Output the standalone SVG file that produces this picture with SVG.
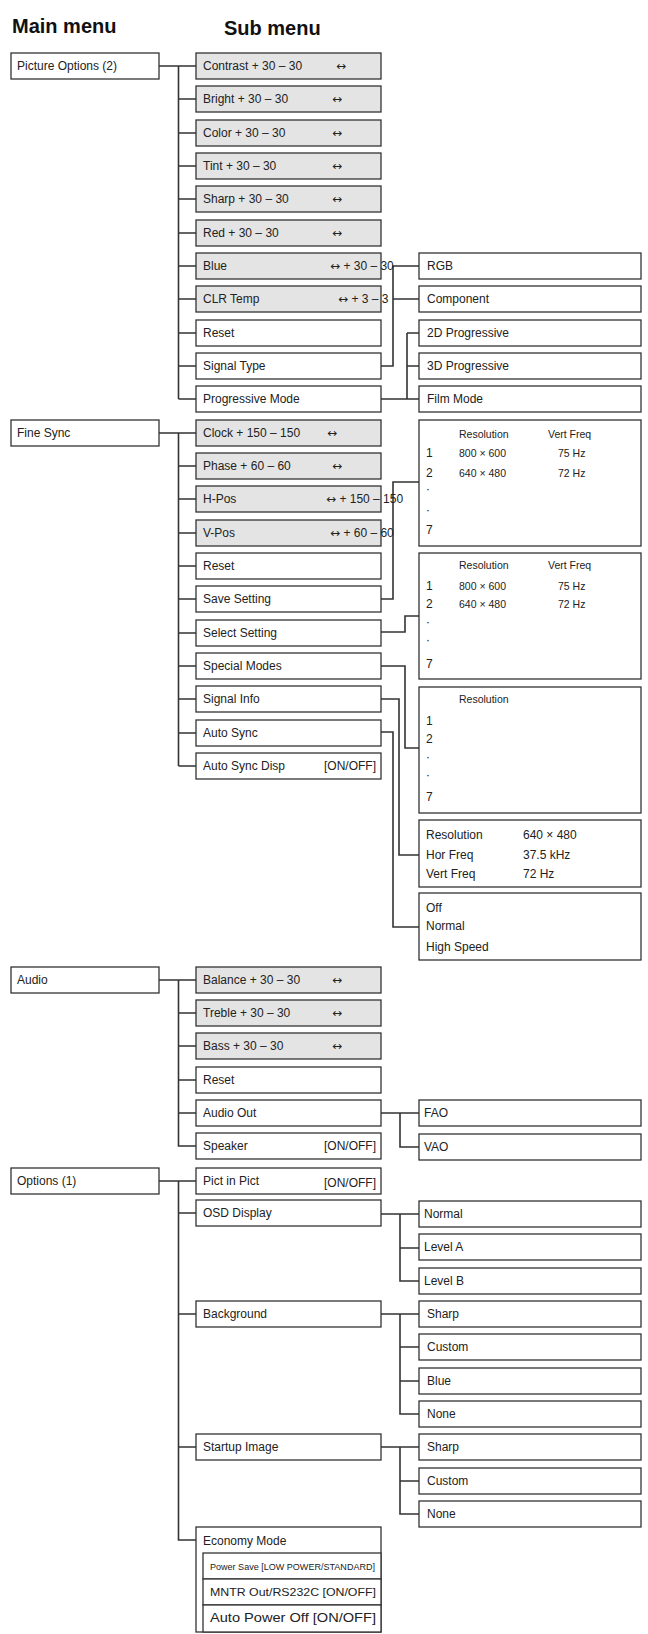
<svg xmlns="http://www.w3.org/2000/svg" width="648" height="1634" viewBox="0 0 648 1634">
<style>
rect{stroke:#333;stroke-width:1.3;fill:#fff}
rect.g{fill:#e4e4e4}
rect.bg{stroke:none}
text{font-family:"Liberation Sans",Arial,sans-serif;font-size:12px;fill:#222}
text.s{font-size:10.5px}
text.h{font-size:20px;font-weight:bold;fill:#111}
text.r{text-anchor:end}
tspan.a{font-family:"DejaVu Sans",sans-serif;font-size:12px}
.c path{fill:none;stroke:#333;stroke-width:1.6}
</style>
<rect class="bg" width="648" height="1634"/>
<text class="h" x="12" y="33">Main menu</text>
<text class="h" x="224" y="35">Sub menu</text>

<g class="c">
<path d="M159 66H196M178.5 66V399M178.5 99H196M178.5 133H196M178.5 166H196M178.5 199H196M178.5 233H196M178.5 266H196M178.5 299H196M178.5 333H196M178.5 366H196M178.5 399H196"/>
<path d="M381 366H393V266H419M393 299H419"/>
<path d="M381 399H407M407 333V399M407 333H419M407 366H419M407 399H419"/>
<path d="M159 433H196M178.5 433V766M178.5 466H196M178.5 499H196M178.5 533H196M178.5 566H196M178.5 599H196M178.5 633H196M178.5 666H196M178.5 699H196M178.5 733H196M178.5 766H196"/>
<path d="M381 599H393V482H419"/>
<path d="M381 632H405V616H419"/>
<path d="M381 666H405V748H419"/>
<path d="M381 699H399V855H419"/>
<path d="M381 732H393V927H419"/>
<path d="M159 980H196M178.5 980V1146H196M178.5 1013H196M178.5 1046H196M178.5 1080H196M178.5 1113H196"/>
<path d="M381 1113H419M400 1113V1147H419"/>
<path d="M159 1181H196M178.5 1181V1540H196M178.5 1213H196M178.5 1314H196M178.5 1447H196"/>
<path d="M381 1214H419M400 1214V1281H419M400 1248H419"/>
<path d="M381 1314H419M400 1314V1414H419M400 1347H419M400 1381H419"/>
<path d="M381 1447H419M400 1447V1514H419M400 1481H419"/>
</g>

<g id="m-picture"><rect x="11" y="53" width="148" height="26"/><text x="17" y="70">Picture Options (2)</text></g>
<g id="m-finesync"><rect x="11" y="420" width="148" height="26"/><text x="17" y="437">Fine Sync</text></g>
<g id="m-audio"><rect x="11" y="967" width="148" height="26"/><text x="17" y="984">Audio</text></g>
<g id="m-options"><rect x="11" y="1168" width="148" height="26"/><text x="17" y="1185">Options (1)</text></g>

<g id="s-contrast"><rect class="g" x="196" y="53" width="185" height="26"/><text x="203" y="70">Contrast  + 30 – 30</text><text x="336" y="70"><tspan class="a">↔</tspan></text></g>
<g id="s-bright"><rect class="g" x="196" y="86" width="185" height="26"/><text x="203" y="103">Bright  + 30 – 30</text><text x="332" y="103"><tspan class="a">↔</tspan></text></g>
<g id="s-color"><rect class="g" x="196" y="120" width="185" height="26"/><text x="203" y="137">Color  + 30 – 30</text><text x="332" y="137"><tspan class="a">↔</tspan></text></g>
<g id="s-tint"><rect class="g" x="196" y="153" width="185" height="26"/><text x="203" y="170">Tint  + 30 – 30</text><text x="332" y="170"><tspan class="a">↔</tspan></text></g>
<g id="s-sharp"><rect class="g" x="196" y="186" width="185" height="26"/><text x="203" y="203">Sharp  + 30 – 30</text><text x="332" y="203"><tspan class="a">↔</tspan></text></g>
<g id="s-red"><rect class="g" x="196" y="220" width="185" height="26"/><text x="203" y="237">Red  + 30 – 30</text><text x="332" y="237"><tspan class="a">↔</tspan></text></g>
<g id="s-blue"><rect class="g" x="196" y="253" width="185" height="26"/><text x="203" y="270">Blue</text><text x="330" y="270"><tspan class="a">↔</tspan> + 30 – 30</text></g>
<g id="s-clrtemp"><rect class="g" x="196" y="286" width="185" height="26"/><text x="203" y="303">CLR Temp</text><text x="338" y="303"><tspan class="a">↔</tspan> + 3 – 3</text></g>
<g id="s-reset1"><rect x="196" y="320" width="185" height="26"/><text x="203" y="337">Reset</text></g>
<g id="s-signaltype"><rect x="196" y="353" width="185" height="26"/><text x="203" y="370">Signal Type</text></g>
<g id="s-progressive"><rect x="196" y="386" width="185" height="26"/><text x="203" y="403">Progressive Mode</text></g>

<g id="t-rgb"><rect x="419" y="253" width="222" height="26"/><text x="427" y="270">RGB</text></g>
<g id="t-component"><rect x="419" y="286" width="222" height="26"/><text x="427" y="303">Component</text></g>
<g id="t-2d"><rect x="419" y="320" width="222" height="26"/><text x="427" y="337">2D Progressive</text></g>
<g id="t-3d"><rect x="419" y="353" width="222" height="26"/><text x="427" y="370">3D Progressive</text></g>
<g id="t-film"><rect x="419" y="386" width="222" height="26"/><text x="427" y="403">Film Mode</text></g>

<g id="s-clock"><rect class="g" x="196" y="420" width="185" height="26"/><text x="203" y="437">Clock  + 150 – 150</text><text x="327" y="437"><tspan class="a">↔</tspan></text></g>
<g id="s-phase"><rect class="g" x="196" y="453" width="185" height="26"/><text x="203" y="470">Phase  + 60 – 60</text><text x="332" y="470"><tspan class="a">↔</tspan></text></g>
<g id="s-hpos"><rect class="g" x="196" y="486" width="185" height="26"/><text x="203" y="503">H-Pos</text><text x="326" y="503"><tspan class="a">↔</tspan> + 150 – 150</text></g>
<g id="s-vpos"><rect class="g" x="196" y="520" width="185" height="26"/><text x="203" y="537">V-Pos</text><text x="330" y="537"><tspan class="a">↔</tspan> + 60 – 60</text></g>
<g id="s-reset2"><rect x="196" y="553" width="185" height="26"/><text x="203" y="570">Reset</text></g>
<g id="s-save"><rect x="196" y="586" width="185" height="26"/><text x="203" y="603">Save Setting</text></g>
<g id="s-select"><rect x="196" y="620" width="185" height="26"/><text x="203" y="637">Select Setting</text></g>
<g id="s-special"><rect x="196" y="653" width="185" height="26"/><text x="203" y="670">Special Modes</text></g>
<g id="s-siginfo"><rect x="196" y="686" width="185" height="26"/><text x="203" y="703">Signal Info</text></g>
<g id="s-autosync"><rect x="196" y="720" width="185" height="26"/><text x="203" y="737">Auto Sync</text></g>
<g id="s-autosyncdisp"><rect x="196" y="753" width="185" height="26"/><text x="203" y="770">Auto Sync Disp</text><text class="r" x="376" y="770">[ON/OFF]</text></g>

<g id="t-save">
<rect x="419" y="420" width="222" height="126"/>
<text class="s" x="459" y="438">Resolution</text><text class="s" x="548" y="438">Vert Freq</text>
<text x="426" y="457">1</text><text class="s" x="459" y="457">800 × 600</text><text class="s" x="558" y="457">75 Hz</text>
<text x="426" y="477">2</text><text class="s" x="459" y="477">640 × 480</text><text class="s" x="558" y="477">72 Hz</text>
<text x="426" y="493">·</text><text x="426" y="514">·</text><text x="426" y="534">7</text>
</g>
<g id="t-select">
<rect x="419" y="553" width="222" height="126"/>
<text class="s" x="459" y="569">Resolution</text><text class="s" x="548" y="569">Vert Freq</text>
<text x="426" y="590">1</text><text class="s" x="459" y="590">800 × 600</text><text class="s" x="558" y="590">75 Hz</text>
<text x="426" y="608">2</text><text class="s" x="459" y="608">640 × 480</text><text class="s" x="558" y="608">72 Hz</text>
<text x="426" y="626">·</text><text x="426" y="644">·</text><text x="426" y="668">7</text>
</g>
<g id="t-special">
<rect x="419" y="687" width="222" height="126"/>
<text class="s" x="459" y="703">Resolution</text>
<text x="426" y="725">1</text><text x="426" y="743">2</text>
<text x="426" y="761">·</text><text x="426" y="779">·</text><text x="426" y="801">7</text>
</g>
<g id="t-siginfo">
<rect x="419" y="820" width="222" height="67"/>
<text x="426" y="839">Resolution</text><text x="523" y="839">640 × 480</text>
<text x="426" y="859">Hor Freq</text><text x="523" y="859">37.5 kHz</text>
<text x="426" y="878">Vert Freq</text><text x="523" y="878">72 Hz</text>
</g>
<g id="t-autosync">
<rect x="419" y="893" width="222" height="67"/>
<text x="426" y="912">Off</text>
<text x="426" y="930">Normal</text>
<text x="426" y="951">High Speed</text>
</g>

<g id="s-balance"><rect class="g" x="196" y="967" width="185" height="26"/><text x="203" y="984">Balance  + 30 – 30</text><text x="332" y="984"><tspan class="a">↔</tspan></text></g>
<g id="s-treble"><rect class="g" x="196" y="1000" width="185" height="26"/><text x="203" y="1017">Treble  + 30 – 30</text><text x="332" y="1017"><tspan class="a">↔</tspan></text></g>
<g id="s-bass"><rect class="g" x="196" y="1033" width="185" height="26"/><text x="203" y="1050">Bass  + 30 – 30</text><text x="332" y="1050"><tspan class="a">↔</tspan></text></g>
<g id="s-reset3"><rect x="196" y="1067" width="185" height="26"/><text x="203" y="1084">Reset</text></g>
<g id="s-audioout"><rect x="196" y="1100" width="185" height="26"/><text x="203" y="1117">Audio Out</text></g>
<g id="s-speaker"><rect x="196" y="1133" width="185" height="26"/><text x="203" y="1150">Speaker</text><text class="r" x="376" y="1150">[ON/OFF]</text></g>
<g id="t-fao"><rect x="419" y="1100" width="222" height="26"/><text x="424" y="1117">FAO</text></g>
<g id="t-vao"><rect x="419" y="1134" width="222" height="26"/><text x="424" y="1151">VAO</text></g>

<g id="s-pip"><rect x="196" y="1168" width="185" height="26"/><text x="203" y="1185">Pict in Pict</text><text class="r" x="376" y="1187">[ON/OFF]</text></g>
<g id="s-osd"><rect x="196" y="1200" width="185" height="26"/><text x="203" y="1217">OSD Display</text></g>
<g id="t-normal"><rect x="419" y="1201" width="222" height="26"/><text x="424" y="1218">Normal</text></g>
<g id="t-levela"><rect x="419" y="1234" width="222" height="26"/><text x="424" y="1251">Level A</text></g>
<g id="t-levelb"><rect x="419" y="1268" width="222" height="26"/><text x="424" y="1285">Level B</text></g>
<g id="s-background"><rect x="196" y="1301" width="185" height="26"/><text x="203" y="1318">Background</text></g>
<g id="t-bg-sharp"><rect x="419" y="1301" width="222" height="26"/><text x="427" y="1318">Sharp</text></g>
<g id="t-bg-custom"><rect x="419" y="1334" width="222" height="26"/><text x="427" y="1351">Custom</text></g>
<g id="t-bg-blue"><rect x="419" y="1368" width="222" height="26"/><text x="427" y="1385">Blue</text></g>
<g id="t-bg-none"><rect x="419" y="1401" width="222" height="26"/><text x="427" y="1418">None</text></g>
<g id="s-startup"><rect x="196" y="1434" width="185" height="26"/><text x="203" y="1451">Startup Image</text></g>
<g id="t-su-sharp"><rect x="419" y="1434" width="222" height="26"/><text x="427" y="1451">Sharp</text></g>
<g id="t-su-custom"><rect x="419" y="1468" width="222" height="26"/><text x="427" y="1485">Custom</text></g>
<g id="t-su-none"><rect x="419" y="1501" width="222" height="26"/><text x="427" y="1518">None</text></g>
<g id="s-economy">
<rect x="196" y="1527" width="185" height="105"/>
<text x="203" y="1545">Economy Mode</text>
<rect x="203" y="1553" width="178" height="26"/>
<text x="210" y="1570" textLength="165" lengthAdjust="spacingAndGlyphs" style="font-size:9px">Power Save [LOW POWER/STANDARD]</text>
<rect x="203" y="1579" width="178" height="26"/>
<text x="210" y="1596" textLength="166" lengthAdjust="spacingAndGlyphs" style="font-size:11px">MNTR Out/RS232C  [ON/OFF]</text>
<rect x="203" y="1605" width="178" height="27"/>
<text x="210" y="1622" textLength="166" lengthAdjust="spacingAndGlyphs">Auto Power Off  [ON/OFF]</text>
</g>
</svg>
